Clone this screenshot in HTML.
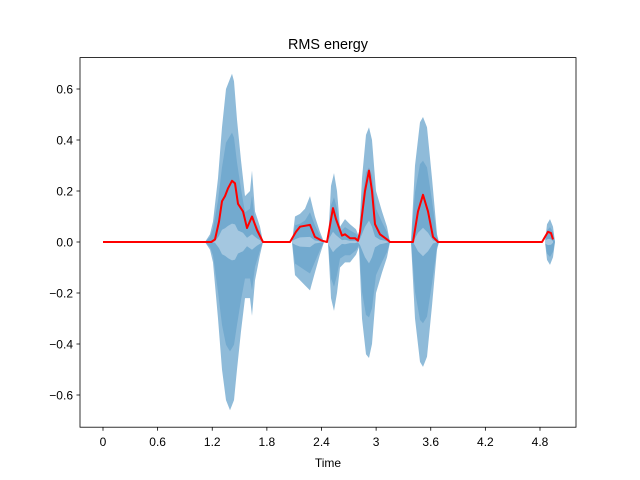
<!DOCTYPE html>
<html><head><meta charset="utf-8"><style>
html,body{margin:0;padding:0;background:#fff;}
svg{display:block;font-family:"Liberation Sans","DejaVu Sans",sans-serif;}
</style></head><body>
<svg id="chart" width="640" height="480" viewBox="0 0 640 480">
<rect x="0" y="0" width="640" height="480" fill="#fff"/>
<text x="328" y="49" text-anchor="middle" font-size="14.4" fill="#000">RMS energy</text>
<g id="plot"></g>
<rect x="80" y="57.6" width="496" height="369.6" fill="none" stroke="#000" stroke-width="0.8"/>
<g id="xticks"></g>
<g id="yticks"></g>
<text x="328" y="467" text-anchor="middle" font-size="12" fill="#000">Time</text>
</svg>
<script>
const waveTimes=[0,1.12,1.175,1.208,1.263,1.307,1.351,1.395,1.417,1.439,1.472,1.516,1.56,1.615,1.637,1.67,1.724,1.757,2.076,2.109,2.164,2.219,2.274,2.328,2.383,2.427,2.471,2.504,2.537,2.57,2.603,2.658,2.713,2.779,2.812,2.845,2.889,2.922,2.955,2.999,3.065,3.12,3.153,3.383,3.427,3.482,3.515,3.559,3.614,3.669,3.691,4.855,4.877,4.91,4.943,4.965];
const waveMax=[0,0,0.03,0.08,0.25,0.45,0.6,0.64,0.66,0.63,0.48,0.32,0.18,0.2,0.28,0.12,0.06,0,0,0.1,0.11,0.13,0.18,0.1,0.04,0,0,0.22,0.27,0.2,0.06,0.09,0.07,0.05,0.02,0.25,0.42,0.45,0.4,0.2,0.12,0.06,0,0,0.3,0.47,0.49,0.45,0.25,0.03,0,0,0.07,0.09,0.06,0];
const waveMin=[0,0,-0.03,-0.08,-0.3,-0.5,-0.62,-0.66,-0.64,-0.62,-0.5,-0.35,-0.22,-0.22,-0.29,-0.15,-0.05,0,0,-0.13,-0.15,-0.17,-0.19,-0.12,-0.05,0,0,-0.22,-0.27,-0.2,-0.1,-0.08,-0.08,-0.05,-0.02,-0.3,-0.44,-0.455,-0.4,-0.2,-0.12,-0.06,0,0,-0.3,-0.47,-0.49,-0.45,-0.25,-0.03,0,0,-0.07,-0.09,-0.06,0];
const rmsTimes=[0,1.19,1.23,1.274,1.307,1.34,1.373,1.417,1.45,1.483,1.538,1.582,1.637,1.692,1.757,2.054,2.12,2.164,2.274,2.328,2.405,2.46,2.526,2.559,2.625,2.658,2.713,2.768,2.801,2.823,2.878,2.922,2.955,2.988,3.043,3.12,3.153,3.405,3.46,3.515,3.57,3.625,3.68,4.822,4.888,4.921,4.943];
const rmsValues=[0,0,0.01,0.08,0.16,0.18,0.21,0.24,0.23,0.15,0.12,0.055,0.1,0.047,0,0,0.04,0.06,0.067,0.02,0.005,0,0.133,0.09,0.025,0.03,0.015,0.015,0.005,0.04,0.2,0.28,0.2,0.07,0.03,0.01,0,0,0.12,0.185,0.12,0.02,0,0,0.04,0.035,0.01];
const xTickVals=[0,0.6,1.2,1.8,2.4,3.0,3.6,4.2,4.8];
const xTickLabels=["0","0.6","1.2","1.8","2.4","3","3.6","4.2","4.8"];
const yTickVals=[-0.6,-0.4,-0.2,0,0.2,0.4,0.6];
const yTickLabels=["\u22120.6","\u22120.4","\u22120.2","0.0","0.2","0.4","0.6"];

const NS="http://www.w3.org/2000/svg";
function xs(t){return 103+t*91.04;}
function ys(v){return 242-v*255;}
const plot=document.getElementById('plot');
function mk(tag,attrs,parent){const e=document.createElementNS(NS,tag);for(const k in attrs)e.setAttribute(k,attrs[k]);parent.appendChild(e);return e;}

function envPts(scale){
  let p=[];
  for(let i=0;i<waveTimes.length;i++)p.push(xs(waveTimes[i]).toFixed(1)+','+ys(waveMax[i]*scale).toFixed(1));
  for(let i=waveTimes.length-1;i>=0;i--)p.push(xs(waveTimes[i]).toFixed(1)+','+ys(waveMin[i]*scale).toFixed(1));
  return p.join(' ');
}
const wave=mk('polygon',{points:envPts(1),fill:'#1f77b4','fill-opacity':'0.5'},plot);


const core=mk('polygon',{points:envPts(0.65),fill:'#1f77b4','fill-opacity':'0.25'},plot);


let ip=[];
for(let i=0;i<rmsTimes.length;i++)ip.push(xs(rmsTimes[i]).toFixed(1)+','+ys(rmsValues[i]*0.3).toFixed(1));
for(let i=rmsTimes.length-1;i>=0;i--)ip.push(xs(rmsTimes[i]).toFixed(1)+','+ys(-rmsValues[i]*0.3).toFixed(1));
const inner=mk('polygon',{points:ip.join(' '),fill:'#ffffff','fill-opacity':'0.35'},plot);


let lp=[];
for(let i=0;i<rmsTimes.length;i++)lp.push(xs(rmsTimes[i]).toFixed(1)+','+ys(rmsValues[i]).toFixed(1));
const line=mk('polyline',{points:lp.join(' '),fill:'none',stroke:'#ff0000','stroke-width':'2','stroke-linejoin':'round'},plot);



const xg=document.getElementById('xticks');
xTickVals.forEach((v,i)=>{
  const x=xs(v);
  const t=mk('line',{x1:x,x2:x,y1:427.2,y2:430.7,stroke:'#000','stroke-width':'0.8'},xg);
  
  
  const l=mk('text',{x:x,y:446,'text-anchor':'middle','font-size':'12',fill:'#000'},xg);
  l.textContent=xTickLabels[i];
  
  
});
const yg=document.getElementById('yticks');
yTickVals.forEach((v,i)=>{
  const y=ys(v);
  const t=mk('line',{x1:76.5,x2:80,y1:y,y2:y,stroke:'#000','stroke-width':'0.8'},yg);
  
  
  const l=mk('text',{x:73,y:y+4.3,'text-anchor':'end','font-size':'12',fill:'#000'},yg);
  l.textContent=yTickLabels[i];
  
  
});
</script>
</body></html>
